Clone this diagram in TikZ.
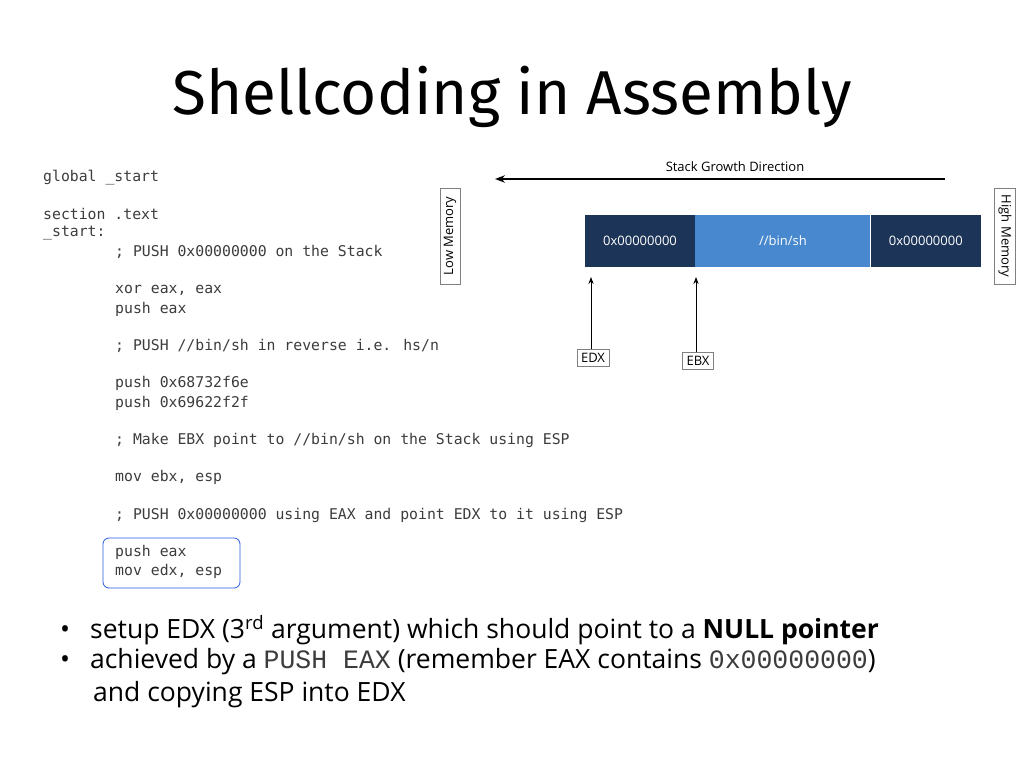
\documentclass[tikz,border=0pt]{standalone}
\usepackage{fontspec}
\setmainfont{Open Sans}
\newfontfamily\codefont{DejaVu Sans Mono}
\newfontfamily\ttlfont{Fira Sans}
\newfontfamily\boxfont{Open Sans}
\newfontfamily\monofont{Liberation Mono}
\usetikzlibrary{positioning,arrows.meta}
\definecolor{stackdark}{RGB}{27,52,87}
\definecolor{stacklight}{RGB}{72,136,206}
\definecolor{codegray}{RGB}{60,60,60}
\definecolor{hlblue}{RGB}{40,90,220}
\tikzset{
  codeline/.style={anchor=west,inner sep=0pt,font=\codefont\fontsize{14.8}{16}\selectfont,text=codegray},
  cell/.style={minimum height=52pt,inner sep=0pt,text=white,font=\boxfont\fontsize{13}{15}\selectfont},
  tagbox/.style={draw=gray,inner sep=4pt,font=\boxfont\fontsize{13}{15}\selectfont},
  bullet/.style={anchor=west,inner sep=0pt,font=\fontsize{26.5}{30}\selectfont},
  ptr/.style={-{Stealth[length=7pt]},line width=1pt}
}
\begin{document}
\begin{tikzpicture}[x=1pt,y=-1pt]
  \useasboundingbox (0,0) rectangle (1024,768);
  %title
  \node (title) at (512,97) {\ttlfont\fontsize{62}{66}\selectfont Shellcoding in Assembly};

  %code listing
  \node[codeline] (l1) at (43,178) {global \_start};
  \node[codeline] (l2) at (43,214) {section .text};
  \node[codeline] (l3) at (43,233) {\_start:};
  \node[codeline] (l4) at (115,252) {; PUSH 0x00000000 on the Stack};
  \node[codeline] (l5) at (115,290) {xor eax, eax};
  \node[codeline] (l6) at (115,309) {push eax};
  \begin{scope}
    \clip (100,330) rectangle (437,362);
    \node[codeline] (l7) at (115,346) {; PUSH //bin/sh in reverse i.e. hs/nib//};
  \end{scope}
  \node[codeline] (l8) at (115,383) {push 0x68732f6e};
  \node[codeline] (l9) at (115,403) {push 0x69622f2f};
  \node[codeline] (l10) at (115,440) {; Make EBX point to //bin/sh on the Stack using ESP};
  \node[codeline] (l11) at (115,477) {mov ebx, esp};
  \node[codeline] (l12) at (115,515) {; PUSH 0x00000000 using EAX and point EDX to it using ESP};
  \node[codeline] (l13) at (115,552) {push eax};
  \node[codeline] (l14) at (115,571) {mov edx, esp};
  \draw[hlblue,rounded corners=6pt,line width=0.8pt] (103,538) rectangle (240,588);

  %stack
  \node[cell,fill=stackdark,minimum width=110pt] (s1) at (640,241) {0x00000000};
  \node[cell,fill=stacklight,minimum width=175pt,right=0pt of s1] (s2) {//bin/sh};
  \node[cell,fill=stackdark,minimum width=110pt,right=0pt of s2] (s3) {0x00000000};
  \node[tagbox,rotate=90,minimum width=96pt] (low) at (450,236) {Low Memory};
  \node[tagbox,rotate=-90,minimum width=96pt] (high) at (1005,236) {High Memory};
  \coordinate (gstart) at (945,179);
  \coordinate (gend) at (495,179);
  \draw[-{Stealth[length=10pt]},line width=1.4pt] (gstart) -- (gend);
  \node[font=\boxfont\fontsize{13}{15}\selectfont] (glabel) at (735,167) {Stack Growth Direction};
  \node[tagbox] (edx) at (593,358) {EDX};
  \node[tagbox] (ebx) at (698,361) {EBX};
  \coordinate (edxtip) at (591,277);
  \coordinate (ebxtip) at (696,277);
  \draw[ptr] (edx.north -| edxtip) -- (edxtip);
  \draw[ptr] (ebx.north -| ebxtip) -- (ebxtip);

  %bullets
  \node[bullet] (b1) at (60,630) {\textbullet\hspace{20pt}setup EDX (3\textsuperscript{rd} argument) which should point to a \textbf{NULL pointer}};
  \node[bullet] (b2) at (60,662) {\textbullet\hspace{20pt}achieved by a {\monofont\color{codegray}PUSH EAX} (remember EAX contains {\monofont\color{codegray}0x00000000})};
  \node[bullet] (b3) at (93,695) {and copying ESP into EDX};
\end{tikzpicture}
\end{document}
